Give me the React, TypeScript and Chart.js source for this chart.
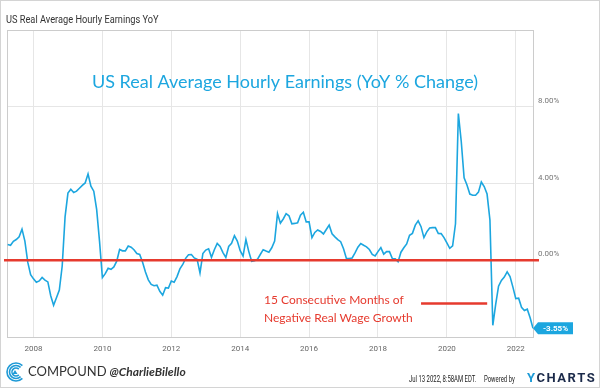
import React, { useEffect, useRef } from "react";
import { Chart, registerables } from "chart.js";

Chart.register(...registerables);

// Monthly data, points plotted at each month's end; first month = March 2007
const startYear = 2007;
const startMonth = 3;
const realEarningsYoY = [
  0.82, 0.78, 0.99, 1.08, 1.22, 1.62, 1.0, -0.1, -0.75, -0.97,
  -1.15, -1.08, -0.9, -1.04, -1.13, -1.85, -2.35, -1.95, -1.55, -0.3,
  2.26, 3.5, 3.7, 3.53, 3.6, 3.75, 3.9, 4.03, 4.5, 3.86,
  3.6, 2.65, 1.0, -0.9, -0.7, -0.42, -0.47, -0.35, -0.05, 0.56,
  0.49, 0.49, 0.74, 0.68, 0.55, 0.35, 0.3, -0.1, -0.61, -1.02,
  -1.26, -1.33, -1.3, -1.62, -1.82, -1.43, -1.45, -1.08, -1.15, -0.85,
  -0.45, -0.22, 0.1, 0.29, 0.3, 0.12, 0.05, -0.66, 0.35, 0.53,
  0.6, 0.15, 0.55, 0.88, 0.72, 0.4, 0.15, 0.72, 0.88, 1.28,
  1.0, 0.5, 0.22, 1.08, 0.45, -0.05, -0.02, 0.05, 0.3, 0.55,
  0.48, 0.42, 0.65, 1.0, 2.43, 1.93, 2.15, 2.43, 2.32, 1.9,
  1.92, 1.95, 2.35, 2.5, 2.0, 2.0, 1.18, 1.45, 1.58, 1.5,
  1.37, 1.6, 1.83, 1.38, 1.22, 1.08, 0.97, 0.6, 0.09, 0.09,
  0.12, 0.38, 0.68, 0.87, 0.78, 0.7, 0.56, 0.3, 0.22, 0.45,
  0.66, 0.32, 0.45, 0.45, 0.09, 0.08, -0.08, 0.42, 0.65, 0.85,
  1.3, 1.4, 1.83, 2.05, 1.75, 1.18, 1.48, 1.68, 1.7, 1.7,
  1.4, 1.39, 1.18, 0.9, 0.62, 0.75, 1.9, 7.65, 6.2, 4.3,
  3.92, 3.45, 3.39, 3.39, 3.55, 4.08, 3.84, 3.45, 2.1, -3.39,
  -2.3, -1.35, -1.05, -0.88, -0.6, -0.85, -1.4, -2.0, -1.98, -2.45,
  -2.62, -2.55, -3.0, -3.55,
];
const xTickYears = [2008, 2010, 2012, 2014, 2016, 2018, 2020, 2022];
const yTickValues = [0, 4, 8];
const chartTitle = "US Real Average Hourly Earnings YoY";
const headline = "US Real Average Hourly Earnings (YoY % Change)";
const noteLines = ["15 Consecutive Months of", "Negative Real Wage Growth"];
const noteLineSpan = [2019.25, 2021.17];
const noteLineLevel = -2.25;
const zeroLineLevel = 0;
const brandName = "COMPOUND";
const brandHandle = "@CharlieBilello";
const timestamp = "Jul 13 2022, 8:58AM EDT.";
const poweredBy = "Powered by";

const CYAN = "#1ca6df";
const RED = "#e63a2e";

function condensedText(ctx: CanvasRenderingContext2D, text: string, x: number, y: number, sx: number) {
  ctx.save();
  ctx.translate(x, y);
  ctx.scale(sx, 1);
  ctx.fillText(text, 0, 0);
  ctx.restore();
}

const decorPlugin = {
  id: "decor",
  beforeDraw(chart: any) {
    const { ctx, width, height } = chart;
    ctx.save();
    ctx.fillStyle = "#ffffff";
    ctx.fillRect(0, 0, width, height);
    ctx.restore();
  },
  beforeDatasetsDraw(chart: any) {
    const { ctx, chartArea: a } = chart;
    ctx.save();
    ctx.strokeStyle = "#cccccc";
    ctx.lineWidth = 1;
    ctx.strokeRect(Math.round(a.left) + 0.5, Math.round(a.top) + 0.5, Math.round(a.right - a.left), Math.round(a.bottom - a.top));
    ctx.restore();
  },
  afterDatasetsDraw(chart: any) {
    const { ctx, chartArea: a, scales } = chart;
    ctx.save();
    const y0 = scales.y.getPixelForValue(zeroLineLevel);
    ctx.strokeStyle = RED;
    ctx.lineWidth = 2.5;
    ctx.beginPath();
    ctx.moveTo(a.left - 3, y0);
    ctx.lineTo(a.right + 6, y0);
    ctx.stroke();

    const meta = chart.getDatasetMeta(0);
    const pt = meta.data[meta.data.length - 1];
    const last = realEarningsYoY[realEarningsYoY.length - 1];
    const bx = pt.x + 5;
    const bw = 35;
    const bh = 12;
    ctx.fillStyle = CYAN;
    ctx.beginPath();
    ctx.moveTo(pt.x, pt.y);
    ctx.lineTo(bx, pt.y - bh / 2);
    ctx.lineTo(bx + bw, pt.y - bh / 2);
    ctx.lineTo(bx + bw, pt.y + bh / 2);
    ctx.lineTo(bx, pt.y + bh / 2);
    ctx.closePath();
    ctx.fill();
    ctx.fillStyle = "#ffffff";
    ctx.font = "bold 8px Roboto";
    ctx.textAlign = "center";
    ctx.textBaseline = "middle";
    ctx.fillText(`${last.toFixed(2)}%`, bx + bw / 2, pt.y + 0.5);
    ctx.restore();
  },
  afterDraw(chart: any) {
    const { ctx, width, height } = chart;
    ctx.save();
    ctx.textBaseline = "alphabetic";
    ctx.textAlign = "left";
    ctx.fillStyle = "#333333";
    ctx.font = "11px Roboto";
    condensedText(ctx, chartTitle, 6, 23, 0.84);

    ctx.fillStyle = CYAN;
    ctx.font = "18px Lato";
    ctx.fillText(headline, 92, 88);

    ctx.fillStyle = RED;
    ctx.font = "12px Lato";
    ctx.fillText(noteLines[0], 264, 304);
    ctx.fillText(noteLines[1], 264, 322);

    ctx.strokeStyle = "#1f9ad6";
    ctx.lineWidth = 1.6;
    const cx = 16, cy = 372;
    [9, 6.5, 4].forEach((r) => {
      ctx.beginPath();
      ctx.arc(cx, cy, r, Math.PI * 0.25, Math.PI * 1.75, false);
      ctx.stroke();
    });
    ctx.fillStyle = "#1f9ad6";
    ctx.beginPath();
    ctx.moveTo(cx - 1, cy - 2);
    ctx.lineTo(cx + 1.5, cy + 2);
    ctx.lineTo(cx - 3.5, cy + 2);
    ctx.closePath();
    ctx.fill();

    ctx.fillStyle = "#333333";
    ctx.font = "13px Lato";
    ctx.fillText(brandName, 28, 376);
    const bw = ctx.measureText(brandName).width;
    ctx.font = "italic bold 12px Lato";
    ctx.fillText(brandHandle, 28 + bw + 3, 376);

    ctx.fillStyle = "#222222";
    ctx.font = "9px Roboto";
    condensedText(ctx, timestamp, 409, 382, 0.66);
    condensedText(ctx, poweredBy, 484, 382, 0.66);
    ctx.font = "bold 13px Roboto";
    ctx.fillStyle = "#1e9bd7";
    ctx.fillText("Y", 527, 382);
    ctx.fillStyle = "#1b2a4a";
    const yw = ctx.measureText("Y").width;
    let xx = 527 + yw + 1.5;
    for (const ch of "CHARTS") {
      ctx.fillText(ch, xx, 382);
      xx += ctx.measureText(ch).width + 1.5;
    }

    ctx.strokeStyle = "#d4d4d4";
    ctx.lineWidth = 1;
    ctx.strokeRect(0.5, 0.5, width - 1, height - 1);
    ctx.restore();
  },
};

export default function App() {
  const ref = useRef<HTMLCanvasElement | null>(null);
  useEffect(() => {
    document.body.style.margin = "0";
    if (!ref.current) return;
    const points = realEarningsYoY.map((v, i) => ({ x: startYear + (startMonth + i) / 12, y: v }));
    const chart = new Chart(ref.current, {
      type: "line",
      data: {
        datasets: [
          {
            data: points,
            borderColor: CYAN,
            borderWidth: 1.6,
            pointRadius: 0,
            tension: 0,
            fill: false,
          },
          {
            data: noteLineSpan.map((x) => ({ x, y: noteLineLevel })),
            borderColor: RED,
            borderWidth: 2.5,
            pointRadius: 0,
            fill: false,
          },
        ],
      },
      options: {
        animation: false,
        responsive: false,
        events: [],
        layout: { padding: { left: 7, top: 30, right: 0, bottom: 0 } },
        plugins: { legend: { display: false }, tooltip: { enabled: false } },
        scales: {
          x: {
            type: "linear",
            min: 2007.231,
            max: 2022.5,
            afterBuildTicks: (s: any) => {
              s.ticks = xTickYears.map((v) => ({ value: v }));
            },
            afterFit: (s: any) => {
              s.height = 51;
            },
            ticks: {
              callback: (v: any) => String(v),
              color: "#666666",
              font: { size: 8, family: "Roboto" },
              padding: 7,
              maxRotation: 0,
              autoSkip: false,
            },
            grid: { color: "#e6e6e6", drawTicks: false },
            border: { display: false },
          },
          y: {
            position: "right",
            min: -4,
            max: 12,
            afterBuildTicks: (s: any) => {
              s.ticks = yTickValues.map((v) => ({ value: v }));
            },
            afterFit: (s: any) => {
              s.width = 67;
            },
            ticks: {
              callback: (v: any) => Number(v).toFixed(2) + "%",
              color: "#777777",
              font: { size: 8, family: "Roboto" },
              padding: 5,
              labelOffset: -6,
            },
            grid: { color: "#e6e6e6", drawTicks: false },
            border: { display: false },
          },
        },
      } as any,
      plugins: [decorPlugin],
    });
    return () => chart.destroy();
  }, []);
  return (
    <div style={{ width: 600, height: 388 }}>
      <canvas ref={ref} width={600} height={388} style={{ display: "block" }} />
    </div>
  );
}
